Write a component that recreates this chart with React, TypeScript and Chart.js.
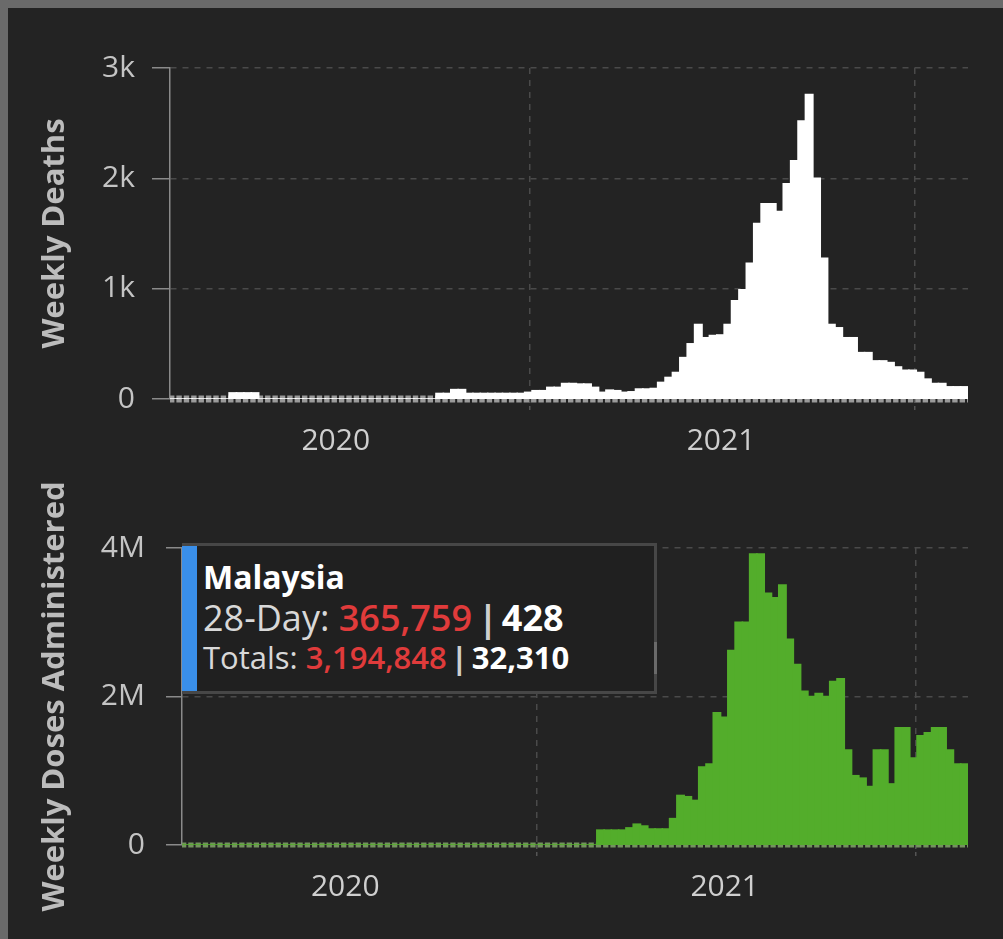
import React, { useEffect, useRef } from 'react';
import { Chart, registerables } from 'chart.js';

Chart.register(...registerables);

// ---- data ----
// week index 0 = week starting 2020-01-26
const FIRST_WEEK = '2020-01-26';

const yearLabels = ['2020', '2021'];
const yearMidDates = ['2020-07-01', '2021-07-01'];
const yearStartDates = ['2021-01-01', '2022-01-01'];

const deathTickValues = [0, 1000, 2000, 3000];
const deathTickLabels = ['0', '1k', '2k', '3k'];
const doseTickValues = [0, 2000000, 4000000];
const doseTickLabels = ['0', '2M', '4M'];

const weeklyDeaths = [
  0, 0, 0, 0, 0, 0, 0, 0, 55, 55,
  55, 55, 0, 0, 0, 0, 0, 0, 0, 0,
  0, 0, 0, 0, 0, 0, 0, 0, 0, 0,
  0, 0, 0, 0, 0, 0, 50, 50, 85, 85,
  50, 50, 50, 50, 50, 50, 50, 50, 60, 75,
  75, 105, 105, 140, 140, 135, 135, 105, 60, 80,
  75, 60, 65, 90, 90, 95, 150, 195, 240, 375,
  500, 675, 555, 575, 580, 675, 890, 990, 1230, 1590,
  1770, 1770, 1700, 1950, 2160, 2520, 2760, 2000, 1275, 675,
  645, 555, 555, 420, 420, 345, 345, 330, 290, 260,
  260, 240, 180, 140, 140, 110, 110, 110,
];

const weeklyDoses = [
  0, 0, 0, 0, 0, 0, 0, 0, 0, 0,
  0, 0, 0, 0, 0, 0, 0, 0, 0, 0,
  0, 0, 0, 0, 0, 0, 0, 0, 0, 0,
  0, 0, 0, 0, 0, 0, 0, 0, 0, 0,
  0, 0, 0, 0, 0, 0, 0, 0, 0, 0,
  0, 0, 0, 0, 0, 0, 0, 200000, 200000, 200000,
  200000, 230000, 280000, 255000, 215000, 215000, 215000, 355000, 667000, 650000,
  600000, 1050000, 1090000, 1780000, 1720000, 2620000, 3000000, 3000000, 3920000, 3920000,
  3390000, 3330000, 3500000, 2770000, 2430000, 2070000, 2000000, 2040000, 2000000, 2200000,
  2240000, 1280000, 933000, 900000, 787000, 1280000, 1280000, 822000, 1580000, 1580000,
  1170000, 1470000, 1510000, 1580000, 1580000, 1280000, 1090000, 1090000,
];

// ---- helpers ----
const DAY = 86400000;
const weekPos = (iso: string) =>
  (Date.parse(iso) - Date.parse(FIRST_WEEK)) / (7 * DAY) - 0.5;

const labelPositions = yearMidDates.map(weekPos);
const boundaryPositions = yearStartDates.map(weekPos);
const xTickValues = [...labelPositions, ...boundaryPositions].sort((a, b) => a - b);
const keyOf = (v: number) => v.toFixed(3);
const xLabelMap = new Map<string, string>();
labelPositions.forEach((p, i) => xLabelMap.set(keyOf(p), yearLabels[i]));
const boundarySet = new Set(boundaryPositions.map(keyOf));

const FONT = "'Open Sans', 'Noto Sans', sans-serif";
const GRID = '#4a4a4a';
const AXIS = '#8a8a8a';
const TICK_TEXT = '#c4c4c4';
const TITLE_TEXT = '#bcbcbc';

function baselinePlugin(color: string, thickness: number) {
  return {
    id: 'zeroBaseline',
    beforeDatasetsDraw(chart: any) {
      const { ctx } = chart;
      const x = chart.scales.x;
      const y = chart.scales.y;
      const y0 = y.getPixelForValue(0);
      const w = x.getPixelForValue(1) - x.getPixelForValue(0);
      ctx.save();
      ctx.strokeStyle = color;
      ctx.lineWidth = thickness;
      ctx.setLineDash([w - 2, 2]);
      ctx.lineDashOffset = 1;
      ctx.beginPath();
      ctx.moveTo(x.left, y0);
      ctx.lineTo(x.right, y0);
      ctx.stroke();
      ctx.restore();
    },
  };
}

function makeConfig(p: {
  values: number[];
  color: string;
  yMax: number;
  yTicks: number[];
  yLabels: string[];
  title: string;
  axisWidth: number;
  tickLen: number;
  tickPad: number;
  padTop: number;
  xHeight: number;
  baseColor: string;
  baseThick: number;
}) {
  return {
    type: 'bar' as const,
    data: {
      datasets: [
        {
          data: p.values.map((v, i) => ({ x: i, y: v })),
          backgroundColor: p.color,
          borderWidth: 0,
          barPercentage: 1,
          categoryPercentage: 1,
          inflateAmount: 0.8,
        },
      ],
    },
    options: {
      animation: false as const,
      responsive: false,
      devicePixelRatio: 1,
      layout: { padding: { left: 0, right: 35, top: p.padTop, bottom: 0 } },
      plugins: { legend: { display: false }, tooltip: { enabled: false } },
      scales: {
        x: {
          type: 'linear' as const,
          offset: false,
          bounds: 'data' as const,
          min: -0.5,
          max: p.values.length - 0.5,
          afterFit: (s: any) => {
            s.height = p.xHeight;
          },
          afterBuildTicks: (s: any) => {
            s.ticks = xTickValues.map((v) => ({ value: v }));
          },
          ticks: {
            autoSkip: false,
            maxRotation: 0,
            padding: 12,
            color: '#cfcfcf',
            font: { family: FONT, size: 30 },
            callback: (v: any) => xLabelMap.get(keyOf(Number(v))) || '',
          },
          grid: {
            offset: false,
            color: (c: any) =>
              c.tick && boundarySet.has(keyOf(c.tick.value)) ? GRID : 'rgba(0,0,0,0)',
            tickColor: (c: any) =>
              c.tick && boundarySet.has(keyOf(c.tick.value)) ? '#555555' : 'rgba(0,0,0,0)',
            lineWidth: 1.5,
            tickWidth: 1.5,
            tickLength: 12,
            tickBorderDash: [4, 3],
          },
          border: { display: false, dash: [6, 6] },
        },
        y: {
          min: 0,
          max: p.yMax,
          afterFit: (s: any) => {
            s.width = p.axisWidth;
          },
          afterBuildTicks: (s: any) => {
            s.ticks = p.yTicks.map((v) => ({ value: v }));
          },
          ticks: {
            padding: p.tickPad,
            color: TICK_TEXT,
            font: { family: FONT, size: 30 },
            callback: (v: any) => p.yLabels[p.yTicks.indexOf(Number(v))] ?? '',
          },
          grid: {
            color: (c: any) => (c.tick && c.tick.value === 0 ? 'rgba(0,0,0,0)' : GRID),
            tickColor: AXIS,
            lineWidth: 1.5,
            tickWidth: 1.5,
            tickLength: p.tickLen,
            tickBorderDash: [],
          },
          border: { color: AXIS, width: 1.5, dash: [6, 6] },
          title: {
            display: true,
            text: p.title,
            color: TITLE_TEXT,
            font: { family: FONT, size: 31, weight: 'bold' as const },
            padding: { top: 37, bottom: 0 },
          },
        },
      },
    },
    plugins: [baselinePlugin(p.baseColor, p.baseThick)],
  };
}

export default function App() {
  const topRef = useRef<HTMLCanvasElement>(null);
  const botRef = useRef<HTMLCanvasElement>(null);

  useEffect(() => {
    const top = new Chart(
      topRef.current as HTMLCanvasElement,
      makeConfig({
        values: weeklyDeaths,
        color: '#ffffff',
        yMax: 3000,
        yTicks: deathTickValues,
        yLabels: deathTickLabels,
        title: 'Weekly Deaths',
        axisWidth: 170,
        tickLen: 18,
        tickPad: 17,
        padTop: 68,
        xHeight: 71,
        baseColor: '#9a9a9a',
        baseThick: 7,
      }) as any
    );
    const bot = new Chart(
      botRef.current as HTMLCanvasElement,
      makeConfig({
        values: weeklyDoses,
        color: '#53ad2b',
        yMax: 4000000,
        yTicks: doseTickValues,
        yLabels: doseTickLabels,
        title: 'Weekly Doses Administered',
        axisWidth: 182,
        tickLen: 16,
        tickPad: 21,
        padTop: 78,
        xHeight: 94,
        baseColor: '#74935f',
        baseThick: 5,
      }) as any
    );
    return () => {
      top.destroy();
      bot.destroy();
    };
  }, []);

  const txt: React.CSSProperties = {
    position: 'absolute',
    left: 21,
    whiteSpace: 'nowrap',
    fontFamily: FONT,
    lineHeight: 1,
    margin: 0,
  };

  return (
    <div
      style={{
        position: 'fixed',
        left: 0,
        top: 0,
        width: 1003,
        height: 939,
        background: '#232323',
        overflow: 'hidden',
      }}
    >
      <div style={{ position: 'absolute', left: 0, top: 0, width: 1003, height: 8, background: '#6a6a6a' }} />
      <div style={{ position: 'absolute', left: 0, top: 0, width: 8, height: 939, background: '#6a6a6a' }} />
      <canvas
        ref={topRef}
        width={1003}
        height={470}
        style={{ position: 'absolute', left: 0, top: 0, width: 1003, height: 470 }}
      />
      <canvas
        ref={botRef}
        width={1003}
        height={469}
        style={{ position: 'absolute', left: 0, top: 470, width: 1003, height: 469 }}
      />
      <div
        style={{
          position: 'absolute',
          left: 182,
          top: 543,
          width: 475,
          height: 151,
          boxSizing: 'border-box',
          borderTop: '3px solid #474747',
          borderRight: '3px solid #474747',
          borderBottom: '3px solid #474747',
          background: '#202020',
        }}
      >
        <div style={{ position: 'absolute', left: 0, top: 0, bottom: 0, width: 15, background: '#3a8fe9' }} />
        <div style={{ position: 'absolute', right: -3, top: 96, width: 3, height: 32, background: '#6a6a6a' }} />
        <div style={{ ...txt, top: 15, fontSize: 32, fontWeight: 700, color: '#ffffff' }}>Malaysia</div>
        <div style={{ ...txt, top: 54, fontSize: 36, fontWeight: 400, color: '#d8d8d8' }}>
          28-Day: <span style={{ color: '#e03b3b', fontWeight: 600 }}>365,759</span>
          <span style={{ color: '#cfcfcf', fontWeight: 700, margin: '0 4px 0 6px' }}>|</span>
          <span style={{ color: '#ffffff', fontWeight: 700 }}>428</span>
        </div>
        <div style={{ ...txt, top: 96, fontSize: 31, fontWeight: 400, color: '#d8d8d8' }}>
          Totals: <span style={{ color: '#e03b3b', fontWeight: 600 }}>3,194,848</span>
          <span style={{ color: '#cfcfcf', fontWeight: 700, margin: '0 4px 0 4px' }}>|</span>
          <span style={{ color: '#ffffff', fontWeight: 700 }}>32,310</span>
        </div>
      </div>
    </div>
  );
}
